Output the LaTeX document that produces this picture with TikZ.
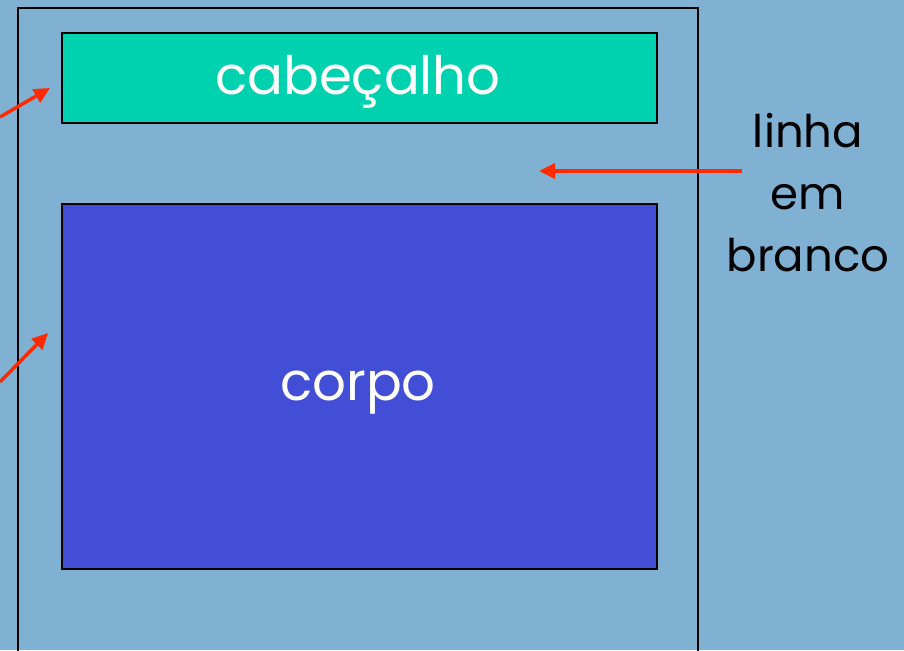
\documentclass[tikz,border=0pt]{standalone}
\usepackage{fontspec}
\setmainfont{Poppins}
\usetikzlibrary{arrows.meta}
\definecolor{bgblue}{HTML}{80B1D3}
\definecolor{headteal}{HTML}{00D1AE}
\definecolor{bodyblue}{HTML}{434ED6}
\definecolor{arrred}{HTML}{FF2A00}
\tikzset{
  box/.style={draw=black, line width=2pt},
  redarrow/.style={draw=arrred, line width=3.5pt, -{Triangle[length=16pt,width=15pt]}},
  bigtext/.style={font=\fontsize{45}{62}\selectfont},
  boxtext/.style={font=\fontsize{53}{62}\selectfont}
}
\begin{document}
\begin{tikzpicture}[x=1pt,y=-1pt]
\useasboundingbox (0,0) rectangle (904,650);
\fill[bgblue] (0,0) rectangle (904,650);
\draw[line width=2.5pt] (18,660) -- (18,8) -- (698,8) -- (698,660);
\node[box, fill=headteal, minimum width=595pt, minimum height=90pt, inner sep=0pt, anchor=north west] (head) at (61,32) {};
\node[text=white, boxtext] (headtext) at (358,82) {cabeçalho};
\node[box, fill=bodyblue, minimum width=595pt, minimum height=365pt, inner sep=0pt, anchor=north west] (body) at (61,203) {};
\node[text=white, boxtext] (bodytext) at (358,393) {corpo};
\node[bigtext, align=center, text=black] (lab) at (808,193) {linha\\em\\branco};
\coordinate (a1) at (0,117);
\coordinate (t1) at (50,88);
\coordinate (a2) at (0,382);
\coordinate (t2) at (48,333);
\coordinate (a3) at (742,171);
\coordinate (t3) at (539,171);
\draw[redarrow] (a1) -- (t1);
\draw[redarrow] (a2) -- (t2);
\draw[redarrow] (a3) -- (t3);
\end{tikzpicture}
\end{document}
